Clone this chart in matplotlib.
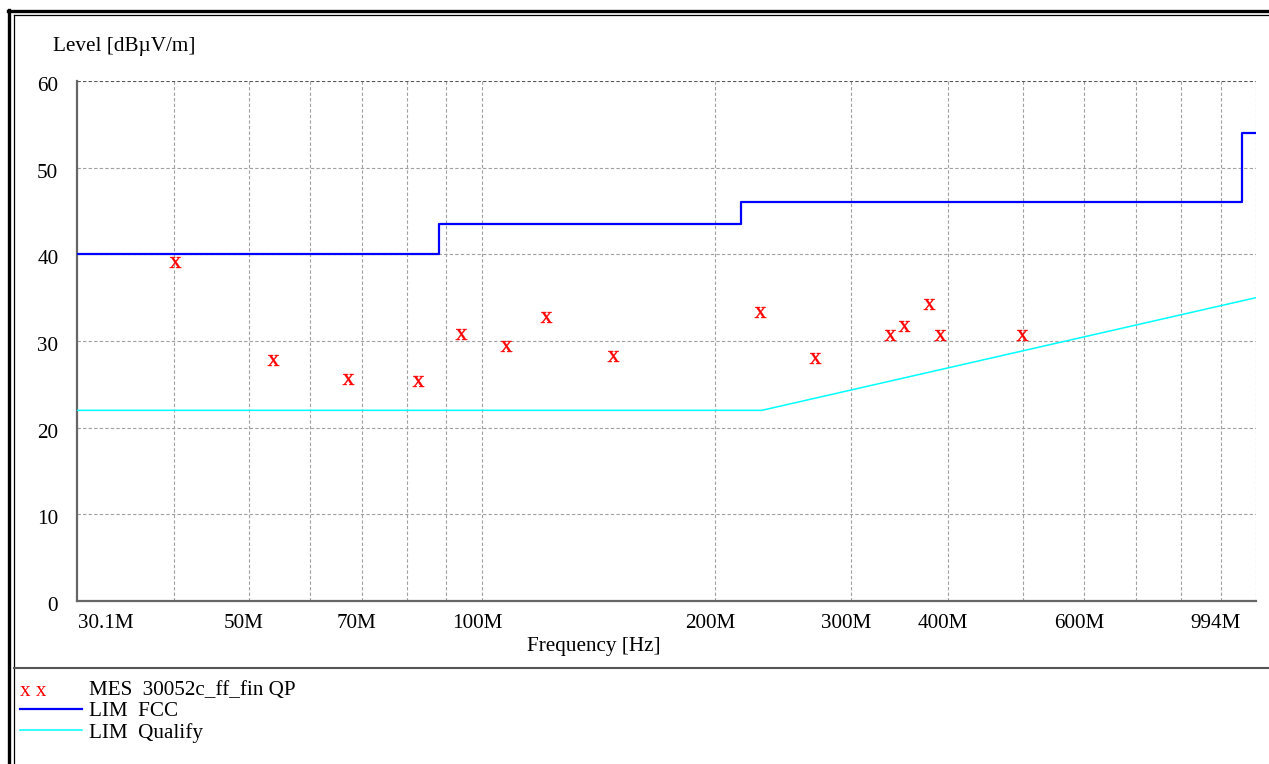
import numpy as np
import matplotlib
matplotlib.use("Agg")
import matplotlib.pyplot as plt
from matplotlib.lines import Line2D
import matplotlib.transforms as mtransforms

plt.rcParams['font.family'] = ['Liberation Serif', 'DejaVu Serif']
plt.rcParams['mathtext.fontset'] = 'custom'
plt.rcParams['mathtext.rm'] = 'Liberation Serif'

W, H = 1269, 764

# final QP measurements (MHz, dBuV/m)
mes_freq = [40.2, 53.7, 67.1, 82.7, 94.0, 107.5, 121.1, 147.9, 228.8,
            269.5, 336.9, 350.5, 377.6, 391.0, 498.9]
mes_level = [39.1, 27.8, 25.6, 25.4, 30.8, 29.4, 32.8, 28.3, 33.3,
             28.0, 30.7, 31.7, 34.3, 30.7, 30.7]

# FCC limit steps
fcc_freq = [30, 88, 88, 216, 216, 960, 960, 1000]
fcc_level = [40, 40, 43.5, 43.5, 46, 46, 54, 54]

# qualify limit
qual_freq = [30, 230, 1000]
qual_level = [22, 22, 35]

tick_freq = [30.1, 50, 70, 100, 200, 300, 400, 600, 994]
tick_text = ['30.1M', '50M', '70M', '100M', '200M', '300M', '400M', '600M', '994M']
grid_freq = [40, 50, 60, 70, 80, 90, 100, 200, 300, 400, 500, 600, 700, 800, 900, 1000]

fs = 15.2

def px(x):
    return x / W

def py(y):
    return 1 - y / H

def shift(dx, dy):
    return mtransforms.ScaledTranslation(dx / 100, -dy / 100, fig.dpi_scale_trans)

fig = plt.figure(figsize=(W / 100, H / 100), dpi=100)
ax = fig.add_axes([px(77), py(601), px(1256) - px(77), py(81) - py(601)])

ax.set_xscale('log')
ax.set_xlim(30, 1000)
ax.set_ylim(0, 60)

for f in grid_freq:
    ax.axvline(f, color='#a0a0a0', lw=0.8, ls=(0, (3, 2)), zorder=1)
for lv in range(10, 70, 10):
    ax.axhline(lv, color='#a0a0a0' if lv < 60 else '#555555', lw=0.8,
               ls=(0, (3, 2)), zorder=1)

ax.plot(qual_freq, qual_level, color='#00ffff', lw=1.1, zorder=3)
ax.plot(fcc_freq, fcc_level, color='#0000ff', lw=1.6, zorder=3)
ax.plot(mes_freq, mes_level, ls='none', marker=r'$\mathrm{x}$', ms=8.2,
        mew=0.3, color='red', zorder=4)

for s in ['top', 'right']:
    ax.spines[s].set_visible(False)
for s in ['left', 'bottom']:
    ax.spines[s].set_color('#666666')
    ax.spines[s].set_linewidth(1.6)

ax.minorticks_off()
ax.set_yticks(range(0, 70, 10))
ax.tick_params(axis='y', length=0, pad=13.5, labelsize=fs)
for lab in ax.get_yticklabels():
    lab.set_transform(lab.get_transform() + shift(0, 3))
ax.set_xticks(tick_freq)
ax.set_xticklabels(tick_text)
ax.tick_params(axis='x', length=0, pad=9, labelsize=fs)
for i, lab in enumerate(ax.get_xticklabels()):
    if i == 0:
        lab.set_ha('left')
    elif i == len(tick_text) - 1:
        lab.set_ha('right')
        lab.set_transform(lab.get_transform() + shift(-13, 0))
    else:
        lab.set_transform(lab.get_transform() + shift(-5, 0))

fig.text(px(53), py(46), 'Level [dB\u00b5V/m]', fontsize=fs, va='center', ha='left')
fig.text(px(594), py(646), 'Frequency [Hz]', fontsize=fs, va='center', ha='center')

# page frame and separator
fig.add_artist(Line2D([px(9), px(9)], [py(10), 0], color='black', lw=2.4))
fig.add_artist(Line2D([px(8), 1], [py(11), py(11)], color='black', lw=2.4))
fig.add_artist(Line2D([px(13.5), px(13.5)], [py(14.5), 0], color='black', lw=0.9))
fig.add_artist(Line2D([px(13.5), 1], [py(14.5), py(14.5)], color='black', lw=0.9))
fig.add_artist(Line2D([px(13.5), 1], [py(668), py(668)], color='#555555', lw=1.5))

# legend block
fig.text(px(20), py(691), 'x x', color='red', fontsize=fs, va='center', ha='left')
fig.add_artist(Line2D([px(20), px(82)], [py(709), py(709)], color='#0000ff', lw=1.6))
fig.add_artist(Line2D([px(20), px(82)], [py(730), py(730)], color='#00ffff', lw=1.1))
fig.text(px(89), py(691), 'MES  30052c_ff_fin QP', fontsize=fs, va='center', ha='left')
fig.text(px(89), py(712), 'LIM  FCC', fontsize=fs, va='center', ha='left')
fig.text(px(89), py(733), 'LIM  Qualify', fontsize=fs, va='center', ha='left')

plt.savefig('out.png', dpi=100)
